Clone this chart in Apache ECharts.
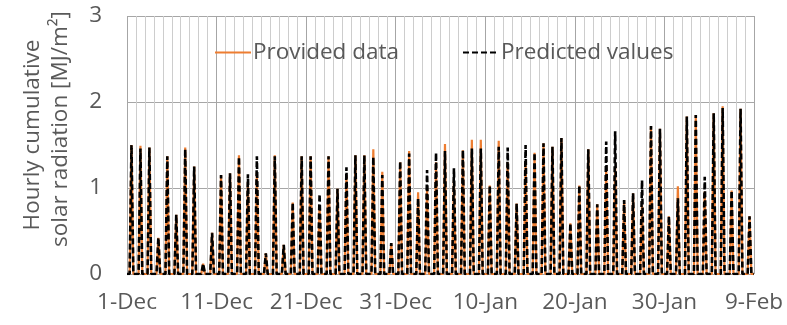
<!DOCTYPE html>
<html>
<head>
<meta charset="utf-8">
<script src="https://cdn.jsdelivr.net/npm/echarts@6/dist/echarts.min.js"></script>
<style>
  html, body { margin: 0; padding: 0; background: #fff; }
  #chart { width: 787px; height: 325px; }
</style>
</head>
<body>
<div id="chart"></div>
<script>
// Day labels on the time axis (every 10 days from 1 Dec)
const tickLabels = ['1-Dec', '11-Dec', '21-Dec', '31-Dec', '10-Jan', '20-Jan', '30-Jan', '9-Feb'];

// Daily midday peak of the hourly cumulative solar radiation [MJ/m²], 1 Dec – 8 Feb
const providedPeaks = [
  1.50, 1.49, 1.47, 0.42, 1.37, 0.69, 1.47, 1.25, 0.12, 0.48,
  1.15, 1.17, 1.38, 1.07, 1.18, 0.24, 1.38, 0.34, 0.83, 1.37,
  1.37, 0.80, 1.37, 0.99, 1.15, 1.38, 1.38, 1.45, 1.19, 0.36,
  1.30, 1.43, 0.95, 1.00, 1.30, 1.51, 1.09, 1.44, 1.56, 1.56,
  1.03, 1.55, 1.30, 0.82, 1.30, 1.41, 1.52, 1.48, 1.58, 0.59,
  1.03, 1.45, 0.81, 1.25, 1.25, 0.86, 0.94, 0.80, 1.72, 1.69,
  0.67, 1.02, 1.83, 1.85, 0.96, 1.87, 1.95, 0.97, 1.92, 0.67
];
const predictedPeaks = [
  1.50, 1.46, 1.47, 0.42, 1.37, 0.69, 1.45, 1.25, 0.12, 0.48,
  1.15, 1.17, 1.36, 1.16, 1.37, 0.24, 1.37, 0.34, 0.83, 1.37,
  1.37, 0.93, 1.37, 0.99, 1.24, 1.38, 1.38, 1.36, 1.15, 0.36,
  1.31, 1.40, 0.88, 1.21, 1.41, 1.43, 1.23, 1.44, 1.46, 1.46,
  1.03, 1.48, 1.47, 0.82, 1.50, 1.41, 1.52, 1.48, 1.58, 0.59,
  1.03, 1.45, 0.81, 1.54, 1.66, 0.86, 0.94, 1.09, 1.72, 1.69,
  0.67, 0.88, 1.83, 1.85, 1.13, 1.87, 1.93, 0.97, 1.92, 0.67
];

// Hour of day (as fraction) for sunrise, solar noon and sunset
const SUNRISE = 7 / 24, NOON = 12 / 24, SUNSET = 17 / 24;

// Night hours are zero; each day rises to its midday peak
function dailySeries(peaks) {
  const pts = [[0, 0]];
  peaks.forEach((p, d) => {
    pts.push([d + SUNRISE, 0], [d + NOON, p], [d + SUNSET, 0]);
  });
  pts.push([peaks.length, 0]);
  return pts;
}

const FONT = '"Open Sans", sans-serif';
const TEXT_COLOR = '#595959';

const chart = echarts.init(document.getElementById('chart'), null, { renderer: 'canvas' });
chart.setOption({
  animation: false,
  backgroundColor: '#fff',
  grid: { left: 127, right: 33, top: 16, bottom: 51, containLabel: false },
  legend: {
    left: 209,
    top: 36,
    itemWidth: 36,
    itemHeight: 14,
    itemGap: 63,
    // line-only keys: hide the marker the line series adds in the middle
    itemStyle: { opacity: 0 },
    textStyle: { fontFamily: FONT, fontSize: 22.5, color: TEXT_COLOR, padding: [0, 0, 0, -3] },
    data: ['Provided data', 'Predicted values']
  },
  xAxis: {
    type: 'value',
    min: 0,
    max: 70,
    interval: 10,
    axisLine: { show: false },
    axisTick: { show: false },
    axisLabel: {
      margin: 17,
      fontFamily: FONT, fontSize: 22.5, color: TEXT_COLOR,
      formatter: v => tickLabels[Math.round(v / 10)]
    },
    splitLine: { show: true, lineStyle: { color: '#a6a6a6', width: 1 } },
    minorTick: { show: false, splitNumber: 10 },
    minorSplitLine: { show: true, lineStyle: { color: '#cdcdcd', width: 1 } }
  },
  yAxis: {
    type: 'value',
    min: 0,
    max: 3,
    interval: 1,
    axisLine: { show: false },
    axisTick: { show: false },
    axisLabel: { margin: 25, fontFamily: FONT, fontSize: 22.5, color: TEXT_COLOR },
    splitLine: { show: true, lineStyle: { color: '#a6a6a6', width: 1 } }
  },
  graphic: [
    {
      type: 'text',
      x: 33, y: 135,
      rotation: Math.PI / 2,
      style: {
        text: 'Hourly cumulative',
        font: '22.5px "Open Sans", sans-serif',
        fill: TEXT_COLOR,
        align: 'center', verticalAlign: 'middle'
      }
    },
    {
      type: 'text',
      x: 61, y: 129,
      rotation: Math.PI / 2,
      style: {
        text: 'solar radiation [MJ/m²]',
        font: '22.5px "Open Sans", sans-serif',
        fill: TEXT_COLOR,
        align: 'center', verticalAlign: 'middle'
      }
    }
  ],
  series: [
    {
      name: 'Provided data',
      type: 'line',
      symbol: 'none',
      data: dailySeries(providedPeaks),
      lineStyle: { color: '#ed7d31', width: 2.2 },
      itemStyle: { color: '#ed7d31' },
      z: 2
    },
    {
      name: 'Predicted values',
      type: 'line',
      symbol: 'none',
      data: dailySeries(predictedPeaks),
      lineStyle: { color: '#000', width: 2.6, type: [6, 3] },
      itemStyle: { color: '#000' },
      z: 3
    }
  ]
});
</script>
</body>
</html>
